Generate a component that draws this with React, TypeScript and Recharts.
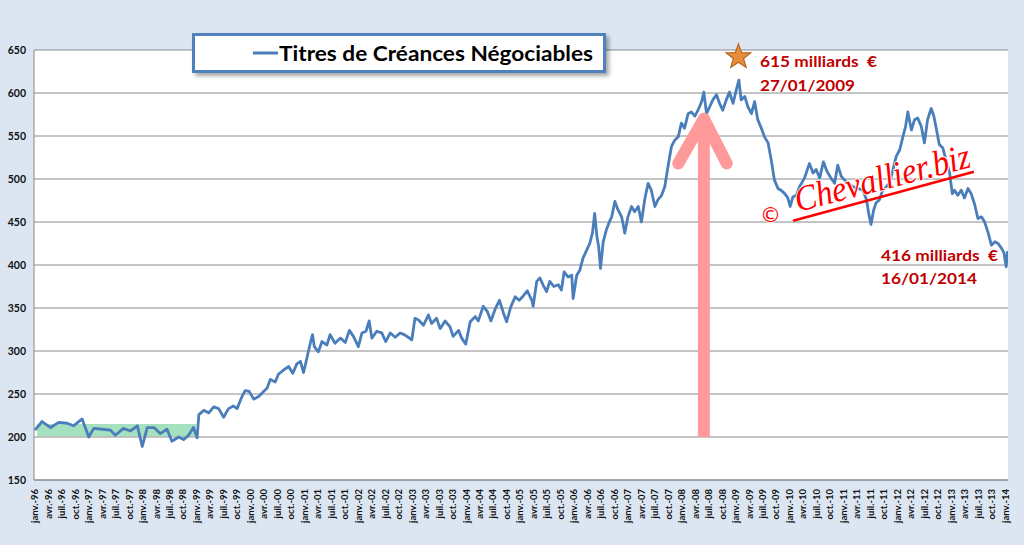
import React from 'react';
import {
  LineChart, Line, XAxis, YAxis, CartesianGrid, ReferenceArea, ReferenceLine, ReferenceDot, Legend,
} from 'recharts';

// Months since janv.-96 (fractional) and amounts in billions of euros
const months = [
  0, 1.6, 3.5, 5.3, 7.2, 8.6, 10.5, 12.0, 13.1, 15.0, 16.8, 17.9, 19.7, 21.3, 22.8, 23.9, 25.0, 26.5, 27.9, 29.4,
  30.5, 32.0, 33.1, 34.2, 35.3, 36.1,
  36.5, 37.6, 38.7, 39.8, 40.9, 42.0, 43.1, 44.2, 45.0, 46.1, 46.8, 47.7, 48.7, 49.8, 50.9, 51.7, 52.4, 53.5, 54.2, 55.4,
  56.5, 57.4, 58.3, 59.1, 59.8, 60.6, 61.3, 61.8, 62.2, 63.1, 63.9, 65.0, 65.7, 66.8, 68.0, 69.1, 70.0, 70.9, 72.0, 72.8,
  73.7, 74.4, 75.0, 76.1, 77.2, 78.1, 79.1, 80.2, 81.3, 82.2,
  83.1, 83.9, 84.6, 85.4, 86.5, 87.6, 88.3, 89.4, 90.2, 91.3, 92.4, 93.1, 94.3, 95.0, 95.9, 96.9, 98.0, 98.7, 99.8, 100.7,
  101.5, 102.4, 103.4, 104.3, 105.0, 105.9, 106.9, 107.8, 108.7, 109.6, 110.6, 110.9, 111.7, 112.4, 113.1, 113.9, 114.6, 115.5, 116.5, 117.2,
  117.8, 118.7, 119.5, 119.8, 120.6, 121.3, 122.0, 122.8, 123.5, 124.1, 124.6, 125.1, 125.5, 125.9,
  126.5, 127.2, 128.0, 128.4, 129.1, 129.8, 130.6, 131.3, 132.0, 132.8, 133.5, 134.3, 135.0, 135.8, 136.5, 137.2, 138.0, 138.7, 139.5, 140.2,
  140.9, 141.7, 142.4, 143.2, 143.9, 144.6, 145.4, 146.1, 146.9, 147.6, 148.4, 148.9, 149.5, 150.2, 150.9, 151.7, 152.4, 153.1, 153.9, 154.6,
  155.4, 156.1, 156.7, 157.2, 158.0, 158.7, 159.5, 160.2, 160.9, 161.7, 162.4, 163.2, 163.9, 164.6, 165.4, 166.1, 166.9, 167.6, 168.1, 168.7,
  169.5, 170.2, 171.3, 172.4,
  173.2, 173.9, 174.7, 175.5, 176.3, 177.2, 178.0, 178.7, 179.5, 180.2, 180.9, 182.1, 183.2, 184.3, 185.1, 185.6, 186.1, 186.7, 187.2, 188.0,
  188.7, 189.5, 190.2, 191.0, 191.7, 192.5, 193.2, 193.8, 194.3, 195.1, 195.8, 196.5, 197.3, 198.0, 198.7, 199.5, 200.1, 200.7, 201.3, 202.1,
  202.8, 203.6, 204.2, 204.7, 205.4, 206.2, 206.9, 207.7, 208.4, 209.2, 209.9, 210.7, 211.4, 212.2, 212.9, 213.7, 214.4, 215.2, 215.7, 216.2,
  216.5,
];
const values = [
  208, 218, 211, 217, 216, 213, 221, 200, 210, 209, 208, 202, 210, 207, 213, 189, 211, 211, 204, 209,
  195, 200, 197, 202, 211, 199,
  226, 231, 228, 235, 233, 223, 233, 236, 233, 247, 254, 253, 244, 247, 253, 257, 267, 264, 273, 278,
  282, 274, 285, 288, 275, 293, 309, 319, 305, 299, 311, 307, 319, 309, 315, 310, 324, 317, 305, 321,
  323, 335, 315, 323, 321, 311, 321, 316, 321, 319,
  316, 313, 338, 336, 330, 342, 332, 338, 326, 335, 328, 317, 324, 315, 308, 334, 340, 335, 352, 346,
  335, 348, 359, 344, 334, 351, 363, 359, 364, 370, 359, 352, 381, 385, 377, 369, 381, 375, 377, 371,
  392, 386, 388, 361, 388, 394, 408, 417, 425, 437, 460, 433, 421, 396,
  427, 441, 452, 456, 474, 464, 456, 437, 456, 468, 462, 468, 450, 478, 495, 487, 468, 476, 481, 491,
  514, 538, 545, 549, 565, 559, 576, 578, 573, 580, 590, 601, 576, 584, 592, 598, 588, 580, 592, 601,
  588, 603, 615, 592, 596, 584, 576, 590, 569, 559, 549, 542, 522, 499, 489, 487, 483, 478, 468, 479,
  481, 491, 501, 518,
  507, 511, 501, 520, 509, 501, 495, 516, 503, 499, 495, 491, 489, 487, 476, 460, 447, 464, 472, 476,
  487, 491, 495, 511, 526, 534, 549, 561, 578, 557, 569, 571, 561, 542, 569, 582, 573, 557, 540, 536,
  522, 507, 483, 487, 481, 487, 478, 489, 483, 470, 454, 456, 450, 437, 423, 427, 425, 419, 414, 398,
  416,
];

const tickLabels = [
  'janv.-96', 'avr.-96', 'juil.-96', 'oct.-96', 'janv.-97', 'avr.-97', 'juil.-97', 'oct.-97',
  'janv.-98', 'avr.-98', 'juil.-98', 'oct.-98', 'janv.-99', 'avr.-99', 'juil.-99', 'oct.-99',
  'janv.-00', 'avr.-00', 'juil.-00', 'oct.-00', 'janv.-01', 'avr.-01', 'juil.-01', 'oct.-01',
  'janv.-02', 'avr.-02', 'juil.-02', 'oct.-02', 'janv.-03', 'avr.-03', 'juil.-03', 'oct.-03',
  'janv.-04', 'avr.-04', 'juil.-04', 'oct.-04', 'janv.-05', 'avr.-05', 'juil.-05', 'oct.-05',
  'janv.-06', 'avr.-06', 'juil.-06', 'oct.-06', 'janv.-07', 'avr.-07', 'juil.-07', 'oct.-07',
  'janv.-08', 'avr.-08', 'juil.-08', 'oct.-08', 'janv.-09', 'avr.-09', 'juil.-09', 'oct.-09',
  'janv.-10', 'avr.-10', 'juil.-10', 'oct.-10', 'janv.-11', 'avr.-11', 'juil.-11', 'oct.-11',
  'janv.-12', 'avr.-12', 'juil.-12', 'oct.-12', 'janv.-13', 'avr.-13', 'juil.-13', 'oct.-13',
  'janv.-14',
];
const tickMonths = tickLabels.map((_, i) => i * 3);
const yTicks = [150, 200, 250, 300, 350, 400, 450, 500, 550, 600, 650];

const seriesName = 'Titres de Créances Négociables';
const peakLabel = ['615 milliards\u00A0 €', '27/01/2009'];
const lastLabel = ['416 milliards\u00A0 €', '16/01/2014'];

const data = months.map((m, i) => ({ m, v: values[i] }));

const FONT = 'Lato, "Open Sans", sans-serif';
const LINE_COLOR = '#4a7ebb';
const PINK = '#ff9a9a';
const DARK_RED = '#c00000';

const XTick = (props: any) => {
  const { x, y, payload } = props;
  const idx = tickMonths.indexOf(payload.value);
  const ay = y + 1;
  return (
    <text
      x={x}
      y={ay}
      transform={`rotate(-90, ${x}, ${ay})`}
      textAnchor="end"
      dy="0.35em"
      fontSize={9.5}
      fontWeight="bold"
      fill="#111"
      fontFamily={FONT}
    >
      {tickLabels[idx]}
    </text>
  );
};

const Star = (props: any) => {
  const { cx, cy } = props;
  const R = 13;
  const r = 5.3;
  const pts: string[] = [];
  for (let i = 0; i < 10; i++) {
    const a = -Math.PI / 2 + (i * Math.PI) / 5;
    const rad = i % 2 === 0 ? R : r;
    pts.push(`${cx + rad * Math.cos(a)},${cy + rad * Math.sin(a)}`);
  }
  return <polygon points={pts.join(' ')} fill="#e88d3c" stroke="#b5651d" strokeWidth={1.2} />;
};

const LegendBox = () => (
  <div
    style={{
      width: 408,
      height: 34,
      background: '#fff',
      border: '3px solid #4f81bd',
      boxShadow: '3px 3px 4px rgba(0,0,0,0.35)',
    }}
  >
    <svg width={408} height={34} style={{ display: 'block' }}>
      <line x1={58} y1={17} x2={83} y2={17} stroke={LINE_COLOR} strokeWidth={3} />
      <text
        x={84}
        y={25}
        fontSize={21}
        fontWeight="bold"
        fontFamily={FONT}
        fill="#000"
        textLength={314}
        lengthAdjust="spacingAndGlyphs"
      >
        {seriesName}
      </text>
    </svg>
  </div>
);

export default function App() {
  return (
    <div style={{ position: 'absolute', left: 0, top: 0, width: 1024, height: 545, background: '#dce6f2' }}>
      <LineChart
        width={1024}
        height={545}
        data={data}
        margin={{ top: 50, right: 16, left: 0, bottom: 0 }}
      >
        <CartesianGrid vertical={false} stroke="#8a8a8a" strokeWidth={1} fill="#ffffff" />
        <XAxis
          type="number"
          dataKey="m"
          domain={[-0.2, 216.6]}
          ticks={tickMonths}
          interval={0}
          tick={<XTick />}
          tickLine={false}
          axisLine={{ stroke: '#8a8a8a' }}
          height={65}
          allowDataOverflow
        />
        <YAxis
          type="number"
          domain={[150, 650]}
          ticks={yTicks}
          interval={0}
          width={34}
          tickLine={false}
          axisLine={{ stroke: '#8a8a8a' }}
          tick={{ fontSize: 10.5, fontWeight: 'bold', fill: '#111', fontFamily: FONT }}
        />
        <Legend
          layout="horizontal"
          verticalAlign="middle"
          align="center"
          content={<LegendBox />}
          wrapperStyle={{ left: 192, top: 33, width: 414, height: 40 }}
        />
        <Line
          type="linear"
          dataKey="v"
          name={seriesName}
          stroke={LINE_COLOR}
          strokeWidth={2.8}
          strokeLinejoin="round"
          dot={false}
          isAnimationActive={false}
        />
        <ReferenceArea x1={0.5} x2={35.9} y1={201} y2={215} fill="#4cc47e" fillOpacity={0.5} stroke="none" />
        <ReferenceLine
          segment={[{ x: 148.9, y: 200 }, { x: 148.9, y: 566 }]}
          stroke={PINK}
          strokeWidth={12}
        />
        <ReferenceLine
          segment={[{ x: 143.2, y: 518 }, { x: 148.9, y: 570 }]}
          stroke={PINK}
          strokeWidth={12}
          strokeLinecap="round"
        />
        <ReferenceLine
          segment={[{ x: 154.0, y: 518 }, { x: 148.9, y: 570 }]}
          stroke={PINK}
          strokeWidth={12}
          strokeLinecap="round"
        />
        <ReferenceDot x={156.6} y={642} r={13} shape={<Star />} />
      </LineChart>
      <svg
        width={1024}
        height={545}
        style={{ position: 'absolute', left: 0, top: 0, pointerEvents: 'none' }}
      >
        <g fontFamily={FONT} fontWeight="bold" fontSize={15.5} fill={DARK_RED} lengthAdjust="spacingAndGlyphs">
          <text x={760} y={67} textLength={117} lengthAdjust="spacingAndGlyphs">{peakLabel[0]}</text>
          <text x={760} y={91} textLength={95} lengthAdjust="spacingAndGlyphs">{peakLabel[1]}</text>
          <text x={881} y={261} textLength={117} lengthAdjust="spacingAndGlyphs">{lastLabel[0]}</text>
          <text x={881} y={284} textLength={96} lengthAdjust="spacingAndGlyphs">{lastLabel[1]}</text>
        </g>
        <text x={760} y={222} fontSize={21} fontFamily="DejaVu Sans" fill="#ff0000" stroke="#fff" strokeWidth={1.5} paintOrder="stroke">©</text>
        <g transform="rotate(-14.5, 798, 212)">
          <text
            x={798}
            y={212}
            fontSize={36}
            fontStyle="italic"
            fontFamily='"Liberation Serif", "DejaVu Serif", serif'
            fill="#ff0000"
            stroke="#ffffff"
            strokeWidth={2}
            paintOrder="stroke"
            textLength={180}
            lengthAdjust="spacingAndGlyphs"
          >
            Chevallier.biz
          </text>
        </g>
        <line x1={794} y1={220.5} x2={973} y2={172} stroke="#ff0000" strokeWidth={2.5} strokeLinecap="round" />
      </svg>
    </div>
  );
}
